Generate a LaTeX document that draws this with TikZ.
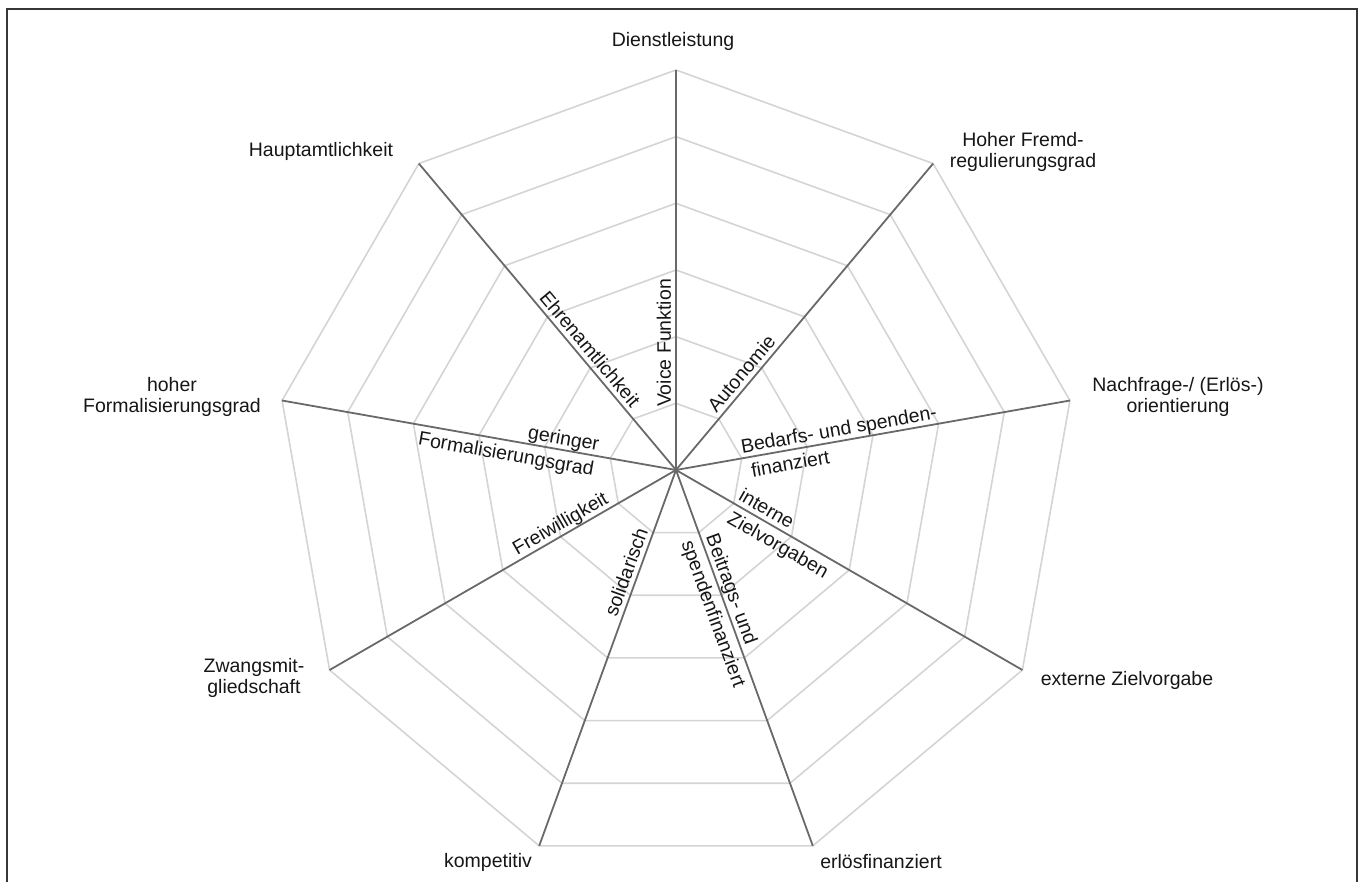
\documentclass[tikz,border=0pt]{standalone}
\usepackage{fontspec}
\setmainfont{Liberation Sans}
\definecolor{ringgray}{RGB}{212,212,212}
\definecolor{axisgray}{RGB}{105,105,105}
\definecolor{framegray}{RGB}{55,55,55}
\definecolor{txt}{RGB}{22,22,22}
\newcommand\labfont{\fontsize{19.5}{21.5}\selectfont}
\begin{document}
\begin{tikzpicture}[x=1pt,y=1pt,
  ring/.style={draw=ringgray, line width=1.6pt, line join=miter},
  axisline/.style={draw=axisgray, line width=1.8pt},
  frameline/.style={draw=framegray, line width=1.4pt},
  outer/.style={font=\labfont, text=txt, align=center, inner sep=0pt},
  inner/.style={font=\labfont, text=txt, inner xsep=2pt, inner ysep=1pt, text height=14pt, text depth=4pt},
  below axis/.style={inner ysep=6pt}]
\useasboundingbox (-676,-412) rectangle (687,470);
% frame (open at the bottom)
\draw[frameline] (-669,-412) -- (-669,461) -- (681,461) -- (681,-412);
% grid rings
\foreach \k in {1,...,6} {
  \pgfmathsetmacro{\r}{\k*400/6}
  \draw[ring] (90:\r) \foreach \a in {50,10,-30,-70,-110,-150,170,130} { -- (\a:\r) } -- cycle;
}
% axes
\coordinate (O) at (0,0);
\foreach \a/\n in {90/a1,50/a2,10/a3,-30/a4,-70/a5,-110/a6,-150/a7,170/a8,130/a9} {
  \coordinate (\n) at (\a:400);
  \draw[axisline] (O) -- (\n);
}
% outer labels
\node[outer] (dienst) at (-3,429) {Dienstleistung};
\node[outer] (haupt) at (-355,319) {Hauptamtlichkeit};
\node[outer] (fremd) at (347,318) {Hoher Fremd-\\regulierungsgrad};
\node[outer] (nach) at (502,73) {Nachfrage-/ (Erlös-)\\orientierung};
\node[outer] (extern) at (451,-210) {externe Zielvorgabe};
\node[outer] (erloes) at (205,-392) {erlösfinanziert};
\node[outer] (kompet) at (-188,-392) {kompetitiv};
\node[outer] (zwang) at (-422,-208) {Zwangsmit-\\gliedschaft};
\node[outer] (hoher) at (-504,73) {hoher\\Formalisierungsgrad};
% inner labels
\node[inner, rotate=90, anchor=south] (voice) at (90:127) {Voice Funktion};
\node[inner, rotate=-50, anchor=south] (ehren) at (130:148) {Ehrenamtlichkeit};
\node[inner, rotate=50, anchor=south] (auto) at (50:116) {Autonomie};
\node[inner, rotate=10, anchor=south west] (bedarf) at (10:66) {Bedarfs- und spenden-};
\node[inner, below axis, rotate=10, anchor=north west] (finanz) at (10:72) {finanziert};
\node[inner, rotate=-30, anchor=south] (intern) at (-30:98) {interne};
\node[inner, below axis, rotate=-30, anchor=north] (ziel) at (-30:126) {Zielvorgaben};
\node[inner, rotate=-70, anchor=south] (beitr) at (-70:131) {Beitrags- und};
\node[inner, below axis, rotate=-70, anchor=north] (spend) at (-70:148) {spendenfinanziert};
\node[inner, rotate=70, anchor=south] (solid) at (-110:113) {solidarisch};
\node[inner, rotate=30, anchor=south] (frei) at (-150:127) {Freiwilligkeit};
\node[inner, rotate=-10, anchor=south] (gering) at (170:116) {geringer};
\node[inner, below axis, rotate=-10, anchor=north] (formal) at (170:170) {Formalisierungsgrad};
\end{tikzpicture}
\end{document}
